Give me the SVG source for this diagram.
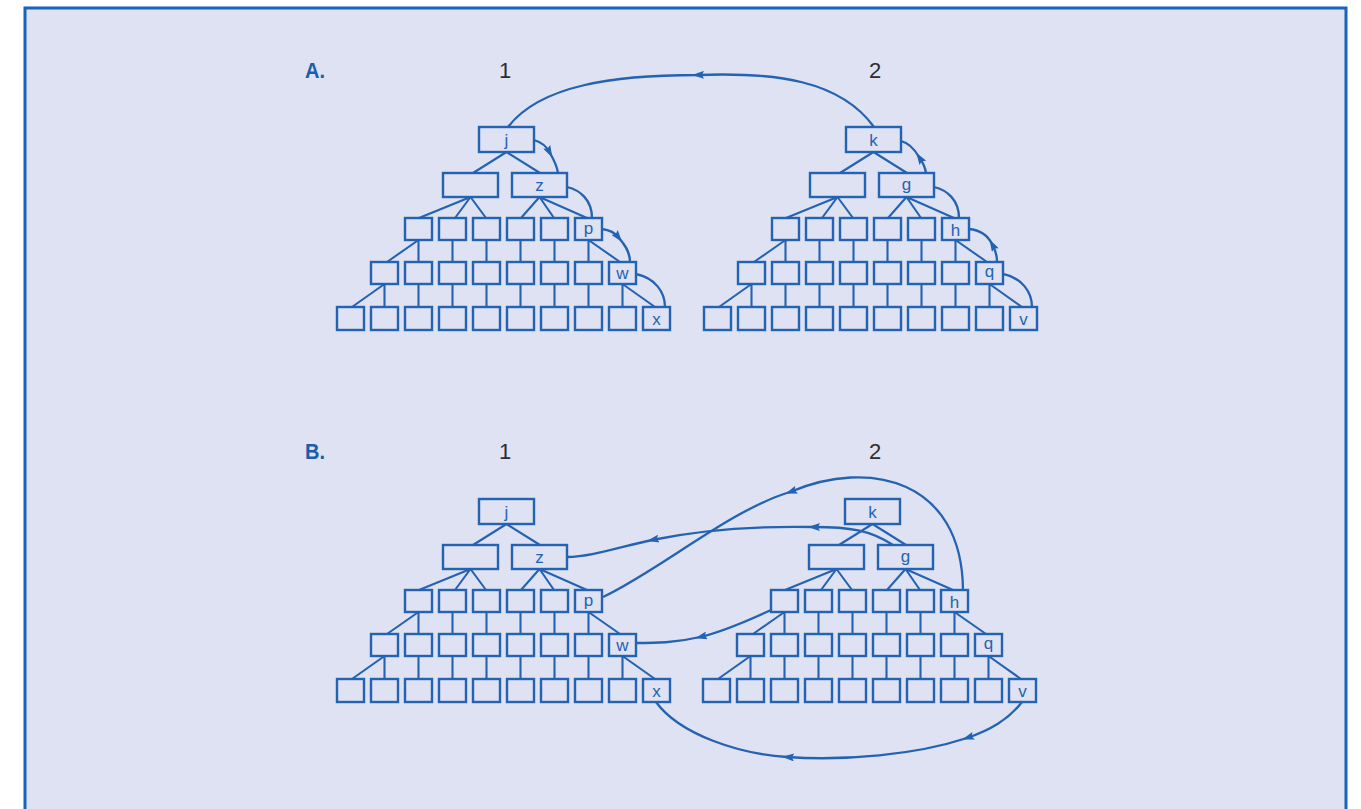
<svg xmlns="http://www.w3.org/2000/svg" xmlns:xlink="http://www.w3.org/1999/xlink" width="1361" height="809" viewBox="0 0 1361 809">
<style>
.node rect{fill:none;stroke:#2462b2;stroke-width:2.4}
.lbl{font-family:"Liberation Sans",Arial,sans-serif;font-size:17px;fill:#2462b2;text-anchor:middle}
.edge{fill:none;stroke:#2462b2;stroke-width:2.1}
.arc{fill:none;stroke:#2462b2;stroke-width:2.3}
.sec{font-family:"Liberation Sans",Arial,sans-serif;font-weight:bold;font-size:22px;fill:#1a5ea8}
.num{font-family:"Liberation Sans",Arial,sans-serif;font-size:22px;fill:#2d2d2d;text-anchor:middle}
</style>
<defs>
<marker id="arr" viewBox="0 0 12 8" refX="7" refY="4" markerWidth="13" markerHeight="8" markerUnits="userSpaceOnUse" orient="auto">
<path d="M0,0 L12,4 L0,8 L2,4 z" fill="#2462b2"/>
</marker>
<path id="treeEdges" d="M506.5 152 L473 173 M506.5 152 L540 173 M470.5 197 L419 218 M470.5 197 L455 218 M470.5 197 L486 218 M539.5 197 L521 218 M539.5 197 L554 218 M539.5 197 L587 218 M418.5 240 L387 262 M418.5 240 V262 M452.5 240 V262 M486.5 240 V262 M520.5 240 V262 M554.5 240 V262 M588.5 240 V262 M588.5 240 L620 262 M384.5 284 L352 307 M384.5 284 V307 M418.5 284 V307 M452.5 284 V307 M486.5 284 V307 M520.5 284 V307 M554.5 284 V307 M588.5 284 V307 M622.5 284 V307 M622.5 284 L655 307"/>
</defs>
<rect x="0" y="0" width="1361" height="809" fill="#ffffff"/>
<rect x="25" y="8" width="1321" height="830" fill="#dee2f2" stroke="#1565b8" stroke-width="3"/>

<text class="sec" x="305" y="78" textLength="20" lengthAdjust="spacingAndGlyphs">A.</text>
<text class="num" x="505" y="78">1</text>
<text class="num" x="875" y="78">2</text>
<text class="sec" x="305" y="459" textLength="20" lengthAdjust="spacingAndGlyphs">B.</text>
<text class="num" x="505" y="459">1</text>
<text class="num" x="875" y="459">2</text>

<!-- Tree A1 -->
<g id="treeA1">
<g id="A1-root" class="node"><rect x="479" y="127" width="55" height="25"/><text class="lbl" x="506.5" y="146">j</text></g>
<g id="A1-L2-0" class="node"><rect x="443" y="173" width="55" height="24"/></g>
<g id="A1-L2-1" class="node"><rect x="512" y="173" width="55" height="24"/><text class="lbl" x="539.5" y="191">z</text></g>
<g id="A1-L3-0" class="node"><rect x="405" y="218" width="27" height="22"/></g>
<g id="A1-L3-1" class="node"><rect x="439" y="218" width="27" height="22"/></g>
<g id="A1-L3-2" class="node"><rect x="473" y="218" width="27" height="22"/></g>
<g id="A1-L3-3" class="node"><rect x="507" y="218" width="27" height="22"/></g>
<g id="A1-L3-4" class="node"><rect x="541" y="218" width="27" height="22"/></g>
<g id="A1-L3-5" class="node"><rect x="575" y="218" width="27" height="22"/><text class="lbl" x="588.5" y="234">p</text></g>
<g id="A1-L4-0" class="node"><rect x="371" y="262" width="27" height="22"/></g>
<g id="A1-L4-1" class="node"><rect x="405" y="262" width="27" height="22"/></g>
<g id="A1-L4-2" class="node"><rect x="439" y="262" width="27" height="22"/></g>
<g id="A1-L4-3" class="node"><rect x="473" y="262" width="27" height="22"/></g>
<g id="A1-L4-4" class="node"><rect x="507" y="262" width="27" height="22"/></g>
<g id="A1-L4-5" class="node"><rect x="541" y="262" width="27" height="22"/></g>
<g id="A1-L4-6" class="node"><rect x="575" y="262" width="27" height="22"/></g>
<g id="A1-L4-7" class="node"><rect x="609" y="262" width="27" height="22"/><text class="lbl" x="622.5" y="279">w</text></g>
<g id="A1-L5-0" class="node"><rect x="337" y="307" width="27" height="23"/></g>
<g id="A1-L5-1" class="node"><rect x="371" y="307" width="27" height="23"/></g>
<g id="A1-L5-2" class="node"><rect x="405" y="307" width="27" height="23"/></g>
<g id="A1-L5-3" class="node"><rect x="439" y="307" width="27" height="23"/></g>
<g id="A1-L5-4" class="node"><rect x="473" y="307" width="27" height="23"/></g>
<g id="A1-L5-5" class="node"><rect x="507" y="307" width="27" height="23"/></g>
<g id="A1-L5-6" class="node"><rect x="541" y="307" width="27" height="23"/></g>
<g id="A1-L5-7" class="node"><rect x="575" y="307" width="27" height="23"/></g>
<g id="A1-L5-8" class="node"><rect x="609" y="307" width="27" height="23"/></g>
<g id="A1-L5-9" class="node"><rect x="643" y="307" width="27" height="23"/><text class="lbl" x="656.5" y="325">x</text></g>
</g>

<!-- Tree A2 -->
<g id="treeA2" transform="translate(367,0)">
<g id="A2-root" class="node"><rect x="479" y="127" width="55" height="25"/><text class="lbl" x="506.5" y="146">k</text></g>
<g id="A2-L2-0" class="node"><rect x="443" y="173" width="55" height="24"/></g>
<g id="A2-L2-1" class="node"><rect x="512" y="173" width="55" height="24"/><text class="lbl" x="539.5" y="190">g</text></g>
<g id="A2-L3-0" class="node"><rect x="405" y="218" width="27" height="22"/></g>
<g id="A2-L3-1" class="node"><rect x="439" y="218" width="27" height="22"/></g>
<g id="A2-L3-2" class="node"><rect x="473" y="218" width="27" height="22"/></g>
<g id="A2-L3-3" class="node"><rect x="507" y="218" width="27" height="22"/></g>
<g id="A2-L3-4" class="node"><rect x="541" y="218" width="27" height="22"/></g>
<g id="A2-L3-5" class="node"><rect x="575" y="218" width="27" height="22"/><text class="lbl" x="588.5" y="236">h</text></g>
<g id="A2-L4-0" class="node"><rect x="371" y="262" width="27" height="22"/></g>
<g id="A2-L4-1" class="node"><rect x="405" y="262" width="27" height="22"/></g>
<g id="A2-L4-2" class="node"><rect x="439" y="262" width="27" height="22"/></g>
<g id="A2-L4-3" class="node"><rect x="473" y="262" width="27" height="22"/></g>
<g id="A2-L4-4" class="node"><rect x="507" y="262" width="27" height="22"/></g>
<g id="A2-L4-5" class="node"><rect x="541" y="262" width="27" height="22"/></g>
<g id="A2-L4-6" class="node"><rect x="575" y="262" width="27" height="22"/></g>
<g id="A2-L4-7" class="node"><rect x="609" y="262" width="27" height="22"/><text class="lbl" x="622.5" y="277">q</text></g>
<g id="A2-L5-0" class="node"><rect x="337" y="307" width="27" height="23"/></g>
<g id="A2-L5-1" class="node"><rect x="371" y="307" width="27" height="23"/></g>
<g id="A2-L5-2" class="node"><rect x="405" y="307" width="27" height="23"/></g>
<g id="A2-L5-3" class="node"><rect x="439" y="307" width="27" height="23"/></g>
<g id="A2-L5-4" class="node"><rect x="473" y="307" width="27" height="23"/></g>
<g id="A2-L5-5" class="node"><rect x="507" y="307" width="27" height="23"/></g>
<g id="A2-L5-6" class="node"><rect x="541" y="307" width="27" height="23"/></g>
<g id="A2-L5-7" class="node"><rect x="575" y="307" width="27" height="23"/></g>
<g id="A2-L5-8" class="node"><rect x="609" y="307" width="27" height="23"/></g>
<g id="A2-L5-9" class="node"><rect x="643" y="307" width="27" height="23"/><text class="lbl" x="656.5" y="325">v</text></g>
</g>

<!-- Tree B1 -->
<g id="treeB1" transform="translate(0,372)">
<g id="B1-root" class="node"><rect x="479" y="127" width="55" height="25"/><text class="lbl" x="506.5" y="146">j</text></g>
<g id="B1-L2-0" class="node"><rect x="443" y="173" width="55" height="24"/></g>
<g id="B1-L2-1" class="node"><rect x="512" y="173" width="55" height="24"/><text class="lbl" x="539.5" y="191">z</text></g>
<g id="B1-L3-0" class="node"><rect x="405" y="218" width="27" height="22"/></g>
<g id="B1-L3-1" class="node"><rect x="439" y="218" width="27" height="22"/></g>
<g id="B1-L3-2" class="node"><rect x="473" y="218" width="27" height="22"/></g>
<g id="B1-L3-3" class="node"><rect x="507" y="218" width="27" height="22"/></g>
<g id="B1-L3-4" class="node"><rect x="541" y="218" width="27" height="22"/></g>
<g id="B1-L3-5" class="node"><rect x="575" y="218" width="27" height="22"/><text class="lbl" x="588.5" y="234">p</text></g>
<g id="B1-L4-0" class="node"><rect x="371" y="262" width="27" height="22"/></g>
<g id="B1-L4-1" class="node"><rect x="405" y="262" width="27" height="22"/></g>
<g id="B1-L4-2" class="node"><rect x="439" y="262" width="27" height="22"/></g>
<g id="B1-L4-3" class="node"><rect x="473" y="262" width="27" height="22"/></g>
<g id="B1-L4-4" class="node"><rect x="507" y="262" width="27" height="22"/></g>
<g id="B1-L4-5" class="node"><rect x="541" y="262" width="27" height="22"/></g>
<g id="B1-L4-6" class="node"><rect x="575" y="262" width="27" height="22"/></g>
<g id="B1-L4-7" class="node"><rect x="609" y="262" width="27" height="22"/><text class="lbl" x="622.5" y="279">w</text></g>
<g id="B1-L5-0" class="node"><rect x="337" y="307" width="27" height="23"/></g>
<g id="B1-L5-1" class="node"><rect x="371" y="307" width="27" height="23"/></g>
<g id="B1-L5-2" class="node"><rect x="405" y="307" width="27" height="23"/></g>
<g id="B1-L5-3" class="node"><rect x="439" y="307" width="27" height="23"/></g>
<g id="B1-L5-4" class="node"><rect x="473" y="307" width="27" height="23"/></g>
<g id="B1-L5-5" class="node"><rect x="507" y="307" width="27" height="23"/></g>
<g id="B1-L5-6" class="node"><rect x="541" y="307" width="27" height="23"/></g>
<g id="B1-L5-7" class="node"><rect x="575" y="307" width="27" height="23"/></g>
<g id="B1-L5-8" class="node"><rect x="609" y="307" width="27" height="23"/></g>
<g id="B1-L5-9" class="node"><rect x="643" y="307" width="27" height="23"/><text class="lbl" x="656.5" y="325">x</text></g>
</g>

<!-- Tree B2 -->
<g id="treeB2" transform="translate(366,372)">
<g id="B2-root" class="node"><rect x="479" y="127" width="55" height="25"/><text class="lbl" x="506.5" y="146">k</text></g>
<g id="B2-L2-0" class="node"><rect x="443" y="173" width="55" height="24"/></g>
<g id="B2-L2-1" class="node"><rect x="512" y="173" width="55" height="24"/><text class="lbl" x="539.5" y="190">g</text></g>
<g id="B2-L3-0" class="node"><rect x="405" y="218" width="27" height="22"/></g>
<g id="B2-L3-1" class="node"><rect x="439" y="218" width="27" height="22"/></g>
<g id="B2-L3-2" class="node"><rect x="473" y="218" width="27" height="22"/></g>
<g id="B2-L3-3" class="node"><rect x="507" y="218" width="27" height="22"/></g>
<g id="B2-L3-4" class="node"><rect x="541" y="218" width="27" height="22"/></g>
<g id="B2-L3-5" class="node"><rect x="575" y="218" width="27" height="22"/><text class="lbl" x="588.5" y="236">h</text></g>
<g id="B2-L4-0" class="node"><rect x="371" y="262" width="27" height="22"/></g>
<g id="B2-L4-1" class="node"><rect x="405" y="262" width="27" height="22"/></g>
<g id="B2-L4-2" class="node"><rect x="439" y="262" width="27" height="22"/></g>
<g id="B2-L4-3" class="node"><rect x="473" y="262" width="27" height="22"/></g>
<g id="B2-L4-4" class="node"><rect x="507" y="262" width="27" height="22"/></g>
<g id="B2-L4-5" class="node"><rect x="541" y="262" width="27" height="22"/></g>
<g id="B2-L4-6" class="node"><rect x="575" y="262" width="27" height="22"/></g>
<g id="B2-L4-7" class="node"><rect x="609" y="262" width="27" height="22"/><text class="lbl" x="622.5" y="277">q</text></g>
<g id="B2-L5-0" class="node"><rect x="337" y="307" width="27" height="23"/></g>
<g id="B2-L5-1" class="node"><rect x="371" y="307" width="27" height="23"/></g>
<g id="B2-L5-2" class="node"><rect x="405" y="307" width="27" height="23"/></g>
<g id="B2-L5-3" class="node"><rect x="439" y="307" width="27" height="23"/></g>
<g id="B2-L5-4" class="node"><rect x="473" y="307" width="27" height="23"/></g>
<g id="B2-L5-5" class="node"><rect x="507" y="307" width="27" height="23"/></g>
<g id="B2-L5-6" class="node"><rect x="541" y="307" width="27" height="23"/></g>
<g id="B2-L5-7" class="node"><rect x="575" y="307" width="27" height="23"/></g>
<g id="B2-L5-8" class="node"><rect x="609" y="307" width="27" height="23"/></g>
<g id="B2-L5-9" class="node"><rect x="643" y="307" width="27" height="23"/><text class="lbl" x="656.5" y="325">v</text></g>
</g>

<g id="connectors">
<use xlink:href="#treeEdges" href="#treeEdges" class="edge"/>
<use xlink:href="#treeEdges" href="#treeEdges" class="edge" transform="translate(367,0)"/>
<use xlink:href="#treeEdges" href="#treeEdges" class="edge" transform="translate(0,372)"/>
<use xlink:href="#treeEdges" href="#treeEdges" class="edge" transform="translate(366,372)"/>
<!-- A arcs -->
<path class="arc" marker-mid="url(#arr)" d="M874 127 C840 80, 775 72, 697 75 C615 75, 540 85, 508 127"/>
<path class="arc" marker-mid="url(#arr)" d="M534 140 C541 142, 547 147, 550 153 C554 160, 557 166, 558 173"/>
<path class="arc" d="M567 187 C580 190, 592 200, 592 218"/>
<path class="arc" marker-mid="url(#arr)" d="M602 229 C610 230, 616 234, 619 238 C625 245, 630 252, 630 262"/>
<path class="arc" d="M636 274 C655 278, 665 292, 665 307"/>
<path class="arc" marker-mid="url(#arr)" d="M926 173 C925 166, 922 161, 919 157 C915 150, 909 143, 901 141"/>
<path class="arc" d="M934 187 C947 190, 959 200, 959 218"/>
<path class="arc" marker-mid="url(#arr)" d="M997 262 C997 255, 995 249, 992 244 C988 236, 980 230, 969 229"/>
<path class="arc" d="M1003 274 C1022 278, 1032 292, 1032 307"/>
<!-- B arcs -->
<path class="arc" marker-mid="url(#arr)" d="M963 590 C962 480, 870 458, 790 492 C730 510, 660 570, 603 597"/>
<path class="arc" marker-mid="url(#arr)" d="M893 545 C870 530, 850 527, 813 527 C760 526, 700 530, 652 540 C620 547, 590 557, 567 557"/>
<path class="arc" marker-mid="url(#arr)" d="M771 610 C745 622, 722 632, 700 637 C675 643, 655 643, 636 643"/>
<path class="arc" marker-mid="url(#arr)" d="M1022 702 C1008 720, 990 730, 967 738 C915 755, 845 761, 787 757 C740 754, 680 735, 656 702"/>
</g>
</svg>
